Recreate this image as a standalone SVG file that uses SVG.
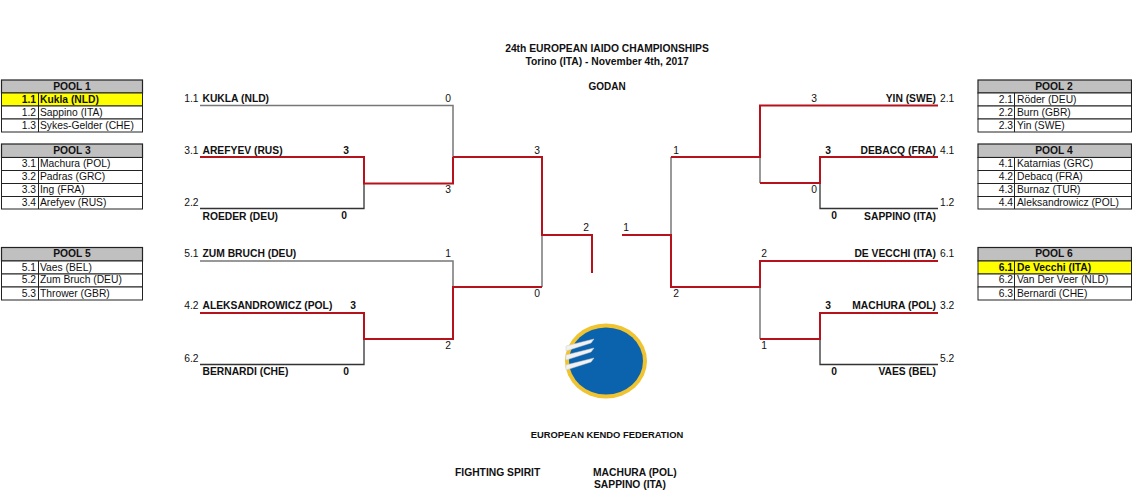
<svg xmlns="http://www.w3.org/2000/svg" width="1132" height="501" viewBox="0 0 1132 501">
<style>
text{font-family:"Liberation Sans",Arial,sans-serif;font-size:10.3px;fill:#111}
.b{font-weight:bold}
.m{text-anchor:middle}
.e{text-anchor:end}
.hd{fill:#c0c0c0;stroke:#222;stroke-width:1.2}
.row{fill:#fff;stroke:#222;stroke-width:1}
.win{fill:#ffff00;stroke:#222;stroke-width:1}
.div{stroke:#222;stroke-width:1}
.k{fill:none;stroke:#333;stroke-width:1.3}
.g{fill:none;stroke:#777;stroke-width:1.5}
.r{fill:none;stroke:#b5121b;stroke-width:2}
</style>
<rect width="1132" height="501" fill="#fff"/>

<g id="title">
<text class="b m" x="607" y="52">24th EUROPEAN IAIDO CHAMPIONSHIPS</text>
<text class="b m" x="607" y="65">Torino (ITA) - November 4th, 2017</text>
<text class="b m" x="607" y="90" style="font-size:10px">GODAN</text>
</g>

<g id="pool1">
<rect class="hd" x="1.5" y="80" width="141" height="13"/><rect class="win" x="1.5" y="93" width="141" height="13"/><rect class="row" x="1.5" y="106" width="141" height="13"/><rect class="row" x="1.5" y="119" width="141" height="13"/><path class="div" d="M38.5 93V132"/>
<text class="b m" x="72" y="90">POOL 1</text>
<text class="b e" x="36" y="103">1.1</text><text class="b" x="40" y="103">Kukla (NLD)</text>
<text class="e" x="36" y="116">1.2</text><text x="40" y="116">Sappino (ITA)</text>
<text class="e" x="36" y="129">1.3</text><text x="40" y="129">Sykes-Gelder (CHE)</text>
</g>
<g id="pool3">
<rect class="hd" x="1.5" y="144" width="141" height="13.5"/><rect class="row" x="1.5" y="157.5" width="141" height="13"/><rect class="row" x="1.5" y="170.5" width="141" height="13"/><rect class="row" x="1.5" y="183.5" width="141" height="13"/><rect class="row" x="1.5" y="196.5" width="141" height="12.5"/><path class="div" d="M38.5 157.5V209"/>
<text class="b m" x="72" y="154">POOL 3</text>
<text class="e" x="36" y="167">3.1</text><text x="40" y="167">Machura (POL)</text>
<text class="e" x="36" y="180">3.2</text><text x="40" y="180">Padras (GRC)</text>
<text class="e" x="36" y="193">3.3</text><text x="40" y="193">Ing (FRA)</text>
<text class="e" x="36" y="206">3.4</text><text x="40" y="206">Arefyev (RUS)</text>
</g>
<g id="pool5">
<rect class="hd" x="1.5" y="247.5" width="141" height="13.5"/><rect class="row" x="1.5" y="261" width="141" height="13"/><rect class="row" x="1.5" y="274" width="141" height="13"/><rect class="row" x="1.5" y="287" width="141" height="13"/><path class="div" d="M38.5 261V300"/>
<text class="b m" x="72" y="257">POOL 5</text>
<text class="e" x="36" y="271">5.1</text><text x="40" y="271">Vaes (BEL)</text>
<text class="e" x="36" y="283">5.2</text><text x="40" y="283">Zum Bruch (DEU)</text>
<text class="e" x="36" y="297">5.3</text><text x="40" y="297">Thrower (GBR)</text>
</g>
<g id="pool2">
<rect class="hd" x="978" y="80" width="153.5" height="13"/><rect class="row" x="978" y="93" width="153.5" height="13"/><rect class="row" x="978" y="106" width="153.5" height="13"/><rect class="row" x="978" y="119" width="153.5" height="13"/><path class="div" d="M1014.5 93V132"/>
<text class="b m" x="1054" y="90">POOL 2</text>
<text class="e" x="1013" y="103">2.1</text><text x="1017" y="103">Röder (DEU)</text>
<text class="e" x="1013" y="116">2.2</text><text x="1017" y="116">Burn (GBR)</text>
<text class="e" x="1013" y="129">2.3</text><text x="1017" y="129">Yin (SWE)</text>
</g>
<g id="pool4">
<rect class="hd" x="978" y="144" width="153.5" height="13.5"/><rect class="row" x="978" y="157.5" width="153.5" height="13"/><rect class="row" x="978" y="170.5" width="153.5" height="13"/><rect class="row" x="978" y="183.5" width="153.5" height="13"/><rect class="row" x="978" y="196.5" width="153.5" height="12.5"/><path class="div" d="M1014.5 157.5V209"/>
<text class="b m" x="1054" y="154">POOL 4</text>
<text class="e" x="1013" y="167">4.1</text><text x="1017" y="167">Katarnias (GRC)</text>
<text class="e" x="1013" y="180">4.2</text><text x="1017" y="180">Debacq (FRA)</text>
<text class="e" x="1013" y="193">4.3</text><text x="1017" y="193">Burnaz (TUR)</text>
<text class="e" x="1013" y="206">4.4</text><text x="1017" y="206">Aleksandrowicz (POL)</text>
</g>
<g id="pool6">
<rect class="hd" x="978" y="247.5" width="153.5" height="13.5"/><rect class="win" x="978" y="261" width="153.5" height="13"/><rect class="row" x="978" y="274" width="153.5" height="13"/><rect class="row" x="978" y="287" width="153.5" height="13"/><path class="div" d="M1014.5 261V300"/>
<text class="b m" x="1054" y="257">POOL 6</text>
<text class="b e" x="1013" y="271">6.1</text><text class="b" x="1017" y="271">De Vecchi (ITA)</text>
<text class="e" x="1013" y="283">6.2</text><text x="1017" y="283">Van Der Veer (NLD)</text>
<text class="e" x="1013" y="297">6.3</text><text x="1017" y="297">Bernardi (CHE)</text>
</g>

<g id="connectors">
<path class="g" d="M200 105.5H453V157"/>
<path class="k" d="M200 208.5H364V183"/>
<path class="g" d="M200 261H453V287"/>
<path class="k" d="M200 364.5H364V339"/>
<path class="g" d="M542 235V287"/>
<path class="g" d="M671 157V235"/>
<path class="g" d="M760 157V183"/>
<path class="g" d="M760 287V339"/>
<path class="k" d="M938 208.5H820V183"/>
<path class="k" d="M938 364.5H820V339"/>
<path class="r" d="M200 157H364V183.5H453V157"/>
<path class="r" d="M453 157H542V235H592V273"/>
<path class="r" d="M200 313H364V339H453V287H542"/>
<path class="r" d="M622 235H671V287H760V261H938"/>
<path class="r" d="M671 157H760V105.5H938"/>
<path class="r" d="M760 183H820V157H938"/>
<path class="r" d="M760 339H820V313H938"/>
</g>

<g id="left-bracket-labels">
<text class="e" x="198.5" y="102">1.1</text><text class="b" x="202.5" y="102">KUKLA (NLD)</text>
<text class="e" x="198.5" y="154">3.1</text><text class="b" x="202.5" y="154">AREFYEV (RUS)</text>
<text class="e" x="198.5" y="206">2.2</text><text class="b" x="202.5" y="220">ROEDER (DEU)</text>
<text class="e" x="198.5" y="257">5.1</text><text class="b" x="202.5" y="257">ZUM BRUCH (DEU)</text>
<text class="e" x="198.5" y="309">4.2</text><text class="b" x="202.5" y="309">ALEKSANDROWICZ (POL)</text>
<text class="e" x="198.5" y="362">6.2</text><text class="b" x="202.5" y="375">BERNARDI (CHE)</text>
<text class="m" x="448" y="102">0</text>
<text class="b m" x="346" y="154">3</text>
<text class="b m" x="344" y="219">0</text>
<text class="m" x="448" y="193">3</text>
<text class="m" x="448" y="257">1</text>
<text class="b m" x="353" y="309">3</text>
<text class="b m" x="346" y="375">0</text>
<text class="m" x="448" y="349">2</text>
<text class="m" x="537" y="154">3</text>
<text class="m" x="537" y="297">0</text>
<text class="m" x="586" y="231">2</text>
</g>
<g id="right-bracket-labels">
<text class="b e" x="936" y="102">YIN (SWE)</text><text x="940" y="102">2.1</text>
<text class="b e" x="936" y="154">DEBACQ (FRA)</text><text x="940" y="154">4.1</text>
<text class="b e" x="936" y="220">SAPPINO (ITA)</text><text x="940" y="206">1.2</text>
<text class="b e" x="936" y="257">DE VECCHI (ITA)</text><text x="940" y="257">6.1</text>
<text class="b e" x="936" y="309">MACHURA (POL)</text><text x="940" y="309">3.2</text>
<text class="b e" x="936" y="375">VAES (BEL)</text><text x="940" y="362">5.2</text>
<text class="m" x="814" y="102">3</text>
<text class="b m" x="828" y="154">3</text>
<text class="m" x="814" y="193">0</text>
<text class="b m" x="834" y="219">0</text>
<text class="m" x="764" y="257">2</text>
<text class="b m" x="828" y="309">3</text>
<text class="m" x="764" y="349">1</text>
<text class="b m" x="834" y="375">0</text>
<text class="m" x="676" y="154">1</text>
<text class="m" x="676" y="297">2</text>
<text class="m" x="626" y="231">1</text>
</g>

<g id="logo">
<ellipse cx="606" cy="361" rx="41" ry="37.5" fill="#f0c330"/>
<ellipse cx="606" cy="361" rx="37" ry="33.5" fill="#0b62ad"/>
<path d="M566 346L594 339L591 343L566 351Z M566 355L594 348L591 352L566 360Z M566 365L594 358L591 362L566 370Z" fill="#f2f2f2" stroke="#ccc" stroke-width=".5"/>
</g>

<g id="footer">
<text class="b m" x="607" y="438" style="font-size:9.4px">EUROPEAN KENDO FEDERATION</text>
<text class="b" x="455" y="476">FIGHTING SPIRIT</text>
<text class="b" x="593" y="476">MACHURA (POL)</text>
<text class="b" x="594" y="488">SAPPINO (ITA)</text>
</g>
</svg>
